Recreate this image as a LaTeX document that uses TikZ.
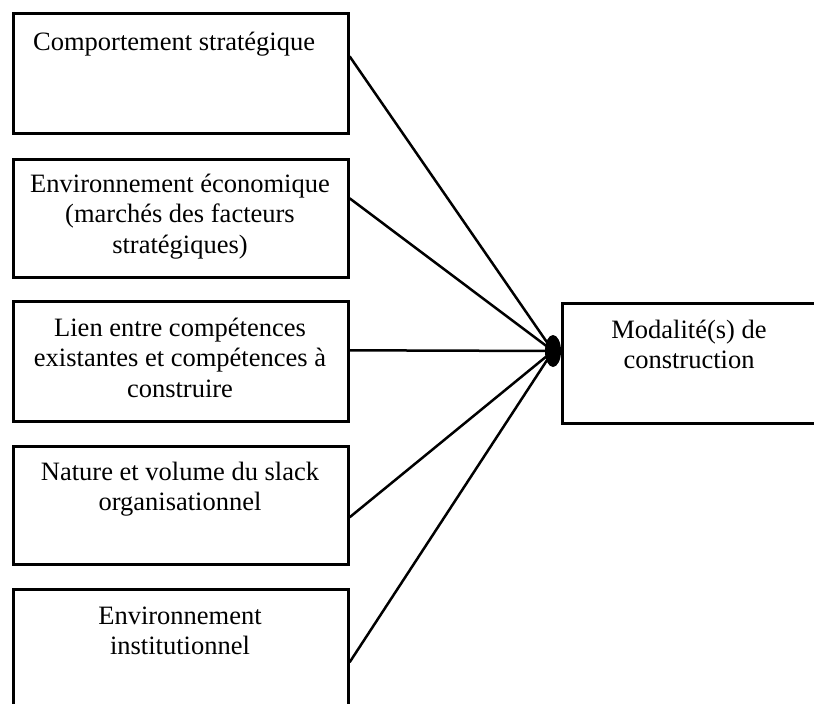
\documentclass[tikz,border=0pt]{standalone}
\usepackage{fontspec}
\setmainfont{Liberation Serif}
\usetikzlibrary{calc}
\newcommand{\celltextc}[1]{\begin{tabular}[t]{@{}c@{}}#1\end{tabular}}
\newcommand{\celltextl}[1]{\begin{tabular}[t]{@{}l@{}}#1\end{tabular}}
\begin{document}
\begin{tikzpicture}[x=1pt,y=-1pt,
  factor/.style={draw=black,line width=2.6pt,rectangle,inner sep=0pt,
    minimum width=335pt,anchor=north west},
  label text/.style={inner sep=0pt,font=\fontsize{26.5}{30.5}\selectfont},
  link/.style={line width=2.5pt,black}]
\useasboundingbox (0,0) rectangle (814,704);
\fill[white] (0,0) rectangle (814,704);
\begin{scope}
\clip (0,0) rectangle (814,704);
% factor boxes on the left
\node[factor,minimum height=120pt] (b1) at (12,12) {};
\node[factor,minimum height=118pt] (b2) at (12,158) {};
\node[factor,minimum height=120pt] (b3) at (12,300) {};
\node[factor,minimum height=118pt] (b4) at (12,445) {};
\node[factor,minimum height=132pt] (b5) at (12,588) {};
% outcome box on the right
\node[draw=black,line width=2.6pt,rectangle,inner sep=0pt,minimum width=256pt,
  minimum height=120pt,anchor=north west] (m) at (561,302) {};
% texts
\node[label text,anchor=base west] (t1) at (33,50) {\celltextl{Comportement stratégique}};
\node[label text,anchor=base] (t2) at (180,192) {\celltextc{Environnement économique\\(marchés des facteurs\\stratégiques)}};
\node[label text,anchor=base] (t3) at (180,336) {\celltextc{Lien entre compétences\\existantes et compétences à\\construire}};
\node[label text,anchor=base] (t4) at (180,480) {\celltextc{Nature et volume du slack\\organisationnel}};
\node[label text,anchor=base] (t5) at (180,624) {\celltextc{Environnement\\institutionnel}};
\node[label text,anchor=base] (tm) at (689,338) {\celltextc{Modalité(s) de\\construction}};
% junction where all links meet
\coordinate (j) at (553,351);
\draw[link] ([yshift=17pt]b1.east) -- (j);
\draw[link] ([yshift=20pt]b2.east) -- (j);
\draw[link] ([yshift=11pt]b3.east) -- (j);
\draw[link] ([yshift=-12pt]b4.east) -- (j);
\draw[link] ([yshift=-7pt]b5.east) -- (j);
\fill[black] (j) ellipse [x radius=8pt, y radius=16pt];
\end{scope}
\end{tikzpicture}
\end{document}
